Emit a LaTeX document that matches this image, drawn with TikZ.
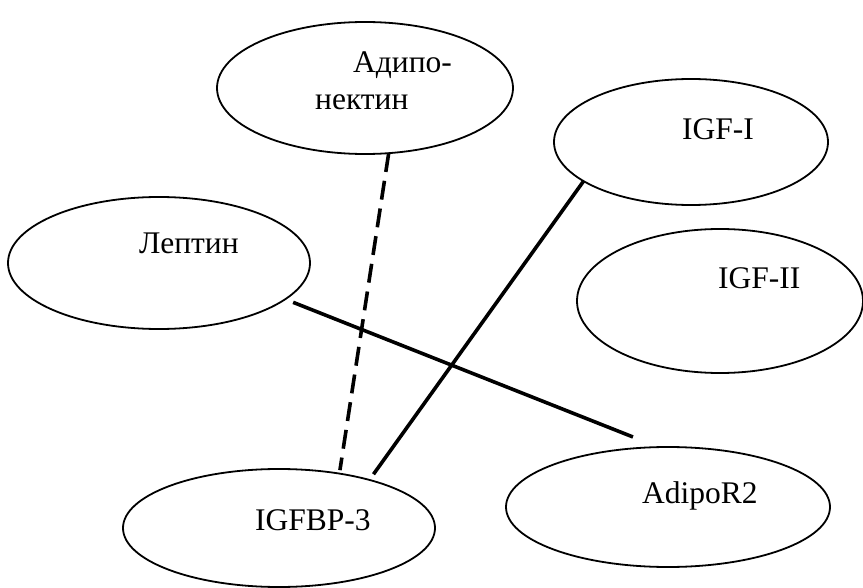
\documentclass[tikz,border=0pt]{standalone}
\usepackage{fontspec}
\setmainfont{Liberation Serif}
\usetikzlibrary{shapes.geometric}
\begin{document}
\begin{tikzpicture}[x=1pt,y=-1pt,
  ell/.style={draw=black, ellipse, line width=1.8pt, inner sep=0pt, outer sep=0pt},
  lbl/.style={anchor=base west, inner sep=0pt, font=\fontsize{31.5}{36}\selectfont},
  link/.style={draw=black, line width=3.6pt},
  dlink/.style={link, dash pattern=on 19pt off 9pt}]
\useasboundingbox (0,0) rectangle (863,588);
\fill[white] (0,0) rectangle (863,588);
% ellipses
\node[ell, minimum width=296pt, minimum height=132pt] (adipo) at (365,88) {};
\node[ell, minimum width=274pt, minimum height=126pt] (igf1) at (691,142) {};
\node[ell, minimum width=302pt, minimum height=132pt] (leptin) at (159,263) {};
\node[ell, minimum width=286pt, minimum height=144pt] (igf2) at (720,301) {};
\node[ell, minimum width=312pt, minimum height=118pt] (igfbp) at (279,528) {};
\node[ell, minimum width=324pt, minimum height=120pt] (adipor) at (668,507) {};
% labels
\node[lbl] (tadipo1) at (353,73) {Адипо-};
\node[lbl] (tadipo2) at (315,110) {нектин};
\node[lbl] (tigf1) at (682,140) {IGF-I};
\node[lbl] (tigf2) at (718,289) {IGF-II};
\node[lbl] (tleptin) at (139,254) {Лептин};
\node[lbl] (tigfbp) at (255,530) {IGFBP-3};
\node[lbl] (tadipor) at (642,503) {AdipoR2};
% connectors
\draw[dlink, shorten >=3.5pt] (adipo.-70.8) -- (igfbp.42.5);
\draw[link, shorten >=7pt] (igf1.200.2) -- (igfbp.28);
\draw[link, shorten <=8.5pt, shorten >=27.5pt] (leptin.-16.4) -- (adipor.99.85);
\end{tikzpicture}
\end{document}
